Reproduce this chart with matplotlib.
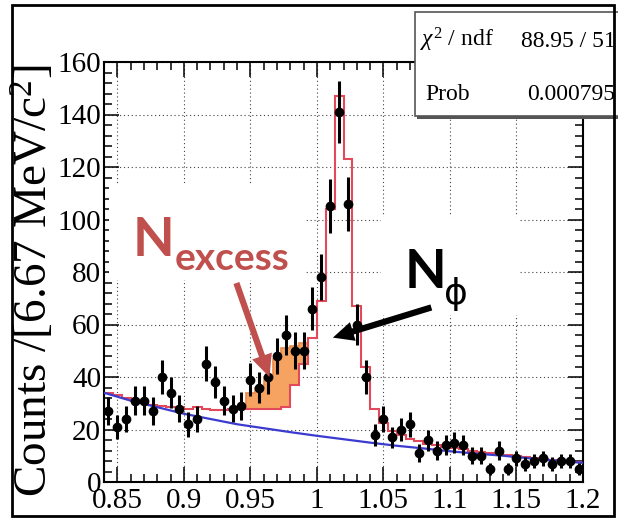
import numpy as np
import matplotlib.pyplot as plt
from matplotlib.patches import Rectangle
from matplotlib.ticker import MultipleLocator, FuncFormatter

plt.rcParams['font.family'] = 'Liberation Serif'
plt.rcParams['mathtext.fontset'] = 'custom'
plt.rcParams['mathtext.rm'] = 'Liberation Serif'
plt.rcParams['mathtext.it'] = 'Liberation Serif:italic'

# K+K- invariant mass, 54 bins of 6.67 MeV from 0.84 to 1.2 GeV
edges = np.linspace(0.84, 1.20, 55)
centers = 0.5 * (edges[:-1] + edges[1:])

counts = [27, 21, 24, 31, 31, 27, 40, 34, 28, 22,
          24, 45, 38, 31, 28, 29, 39, 36, 40, 48,
          56, 50, 50, 66, 78, 105, 141, 106, 60, 40,
          18, 24, 17, 20, 22, 11, 16, 12, 14, 15,
          14, 10, 10, 5, 12, 5, 9, 7, 8, 9,
          7, 8, 8, 5]

# fitted phi + background, per bin
fit_total = [34, 33, 32, 31, 30.5, 29.5, 29, 28.5, 28.5, 28,
             28.5, 28, 27.5, 27.5, 28, 28, 28, 28, 28, 28,
             28.5, 37, 45, 55, 69, 104, 147, 123, 67, 44,
             28, 22.5, 19.5, 18, 16.5, 15.5, 14.5, 14, 13.5, 13,
             12.5, 12, 11.5, 11, 10.7, 10.3, 10, 9.5, 9.2, 8.8,
             8.4, 8.1, 7.8, 7.5]

# excess above the fit, bins 16..22
excess_first = 16
excess_top = [34, 36, 40, 47, 51, 52, 53]

# smooth background curve
bkg_x = [0.84, 0.86, 0.88, 0.90, 0.92, 0.94, 0.96, 0.98, 1.00, 1.02,
         1.04, 1.06, 1.08, 1.10, 1.12, 1.14, 1.16, 1.18, 1.20]
bkg_y = [34, 31, 28.5, 26, 24, 22, 20.5, 19, 17.6, 16.3,
         15, 13.8, 12.8, 11.7, 10.8, 10, 9, 8.1, 7.3]

W, H = 618, 525
fig = plt.figure(figsize=(W / 100, H / 100), dpi=100)
fig.patch.set_facecolor('white')


def fx(px):
    return px / W


def fy(py):
    return 1 - py / H


ax = fig.add_axes([fx(104), fy(482), fx(583) - fx(104), fy(62) - fy(482)])
ax.set_xlim(0.84, 1.2)
ax.set_ylim(0, 160)

ax.grid(True, which='major', color='#444444', linestyle=(0, (1, 2.5)), lw=0.8)
ax.xaxis.set_major_locator(MultipleLocator(0.05))
ax.xaxis.set_minor_locator(MultipleLocator(0.01))
ax.yaxis.set_major_locator(MultipleLocator(20))
ax.yaxis.set_minor_locator(MultipleLocator(4))
ax.xaxis.set_major_formatter(FuncFormatter(lambda v, p: f'{v:g}'))
ax.tick_params(which='both', direction='in', top=True, right=True, width=1.1, labelsize=21)
ax.tick_params(which='major', length=11)
ax.tick_params(which='minor', length=6)
ax.tick_params(axis='x', pad=4)
ax.tick_params(axis='y', pad=2)
for s in ax.spines.values():
    s.set_linewidth(1.5)

# white boxes behind the annotations
ax.add_patch(Rectangle((0.844, 77), 0.148, 36, facecolor='white', edgecolor='none', zorder=1.8))
ax.add_patch(Rectangle((1.0485, 63.6), 0.1035, 37.4, facecolor='white', edgecolor='none', zorder=1.8))

seg = edges[excess_first:excess_first + len(excess_top) + 1]
base = fit_total[excess_first:excess_first + len(excess_top)]
ax.stairs(excess_top, seg, baseline=base, fill=True, facecolor='#f6a361', edgecolor='none', zorder=2.2)
ax.stairs(excess_top, seg, baseline=base, fill=False, color='#e98a4a', lw=1.2, zorder=2.3)

ax.stairs(fit_total, edges, color='#e24a5c', lw=1.5, zorder=2.5)
ax.plot(bkg_x, bkg_y, color='#3b3bcf', lw=1.6, zorder=2.6)

ax.errorbar(centers, counts, yerr=np.sqrt(counts), fmt='o', color='black', ms=6,
            elinewidth=2.2, capsize=0, zorder=3)

# annotations
ax.annotate('', xy=(0.9643, 40.0), xytext=(0.9395, 75.8),
            arrowprops=dict(facecolor='#c0504d', edgecolor='none', width=4.5,
                            headwidth=15, headlength=16, shrink=0), zorder=4)
ax.annotate('', xy=(1.012, 55.0), xytext=(1.086, 66.5),
            arrowprops=dict(facecolor='black', edgecolor='none', width=4.5,
                            headwidth=14, headlength=15, shrink=0), zorder=4)

fig.text(fx(133), fy(256), 'N', family='Lato', weight='bold', fontsize=39,
         color='#c0504d', va='baseline', ha='left')
fig.text(fx(175), fy(270), 'excess', family='Lato', weight='bold', fontsize=28,
         color='#c0504d', va='baseline', ha='left')
fig.text(fx(405), fy(288), 'N', family='Lato', weight='bold', fontsize=39,
         color='black', va='baseline', ha='left')
fig.text(fx(456), fy(294), 'ϕ', family='DejaVu Sans', fontsize=26,
         color='black', va='center', ha='center')

fig.text(fx(34), fy(281), r'Counts /[6.67 MeV/c$^{2}$]', rotation=90, fontsize=34,
         va='center', ha='center')

# fit statistics box
fig.add_artist(Rectangle((fx(417), fy(119)), fx(240), fy(0) - fy(107), transform=fig.transFigure,
                         facecolor='#555555', edgecolor='none', zorder=9))
fig.add_artist(Rectangle((fx(415), fy(116)), fx(240), fy(0) - fy(104), transform=fig.transFigure,
                         facecolor='white', edgecolor='#555555', lw=1.2, zorder=10))
fig.text(fx(420), fy(47), r'$\chi^{2}$ / ndf', fontsize=17, va='baseline', ha='left', zorder=11)
fig.text(fx(521), fy(47), '88.95 / 51', fontsize=17, va='baseline', ha='left', zorder=11)
fig.text(fx(425), fy(100), 'Prob', fontsize=17, va='baseline', ha='left', zorder=11)
fig.text(fx(527), fy(100), '0.000795', fontsize=17, va='baseline', ha='left', zorder=11)

# outer frame
fig.add_artist(Rectangle((fx(12), fy(516)), fx(602), fy(0) - fy(511), transform=fig.transFigure,
                         facecolor='none', edgecolor='black', lw=2, zorder=12))

fig.savefig('out.png', dpi=100)
